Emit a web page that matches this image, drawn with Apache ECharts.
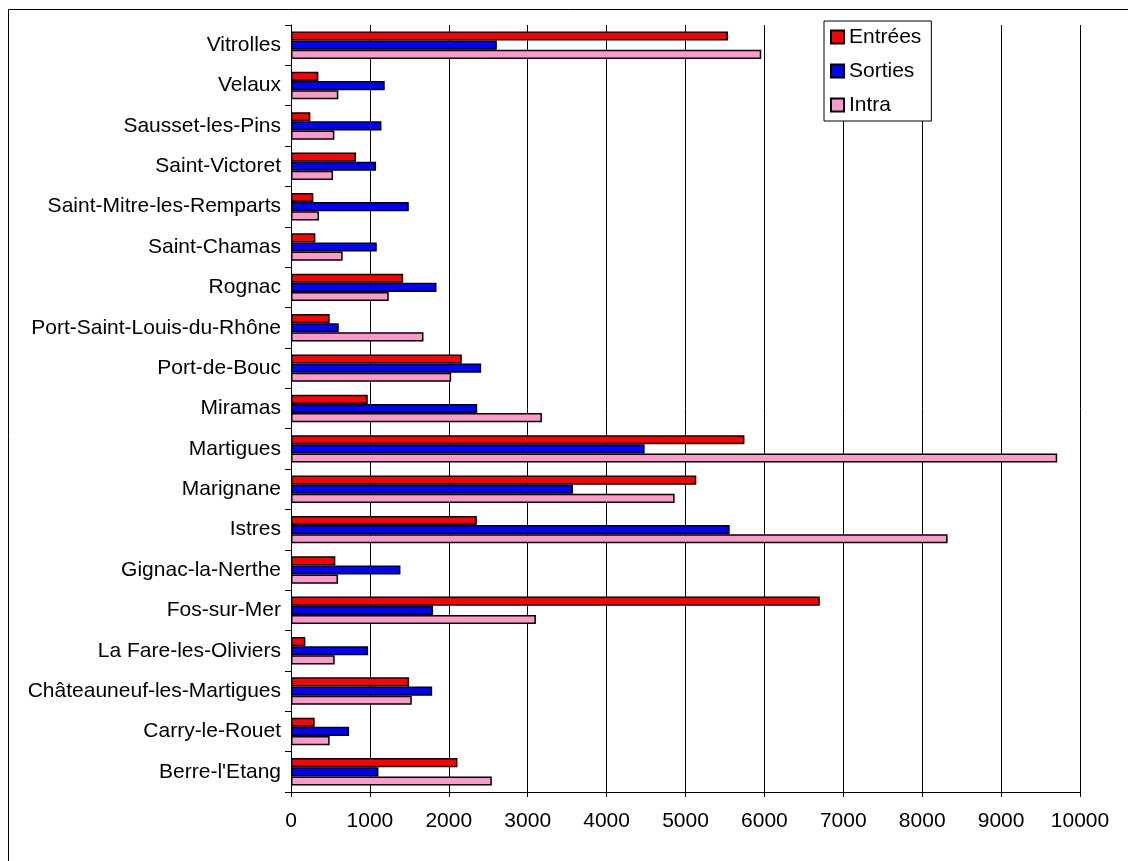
<!DOCTYPE html>
<html>
<head>
<meta charset="utf-8">
<script src="https://cdn.jsdelivr.net/npm/echarts@6/dist/echarts.min.js"></script>
<style>
html,body{margin:0;padding:0;background:#fff;}
#chart{width:1128px;height:861px;}
</style>
</head>
<body>
<div id="chart"></div>
<script>
const categories = ["Berre-l'Etang","Carry-le-Rouet","Châteauneuf-les-Martigues","La Fare-les-Oliviers","Fos-sur-Mer","Gignac-la-Nerthe","Istres","Marignane","Martigues","Miramas","Port-de-Bouc","Port-Saint-Louis-du-Rhône","Rognac","Saint-Chamas","Saint-Mitre-les-Remparts","Saint-Victoret","Sausset-les-Pins","Velaux","Vitrolles"];
const entrees = [2110,300,1497,182,6702,562,2355,5137,5747,973,2165,490,1421,309,283,824,245,347,5539];
const sorties = [1108,736,1789,977,1801,1387,5560,3574,4482,2360,2410,605,1844,1087,1493,1078,1146,1188,2609];
const intra = [2545,490,1531,554,3104,596,8322,4862,9711,3180,2030,1679,1239,655,355,533,550,600,5960];
const xTicks = {min:0, max:10000, interval:1000};

const FONT = '"Liberation Sans", Arial, sans-serif';
const chart = echarts.init(document.getElementById('chart'), null, {renderer:'canvas'});
const mk = (name, data, color) => ({
  name, type:'bar', data,
  barGap:'0%', barCategoryGap:'32%',
  itemStyle:{color, borderColor:'#000', borderWidth:1.5},
  animation:false
});
chart.setOption({
  animation:false,
  backgroundColor:'#fff',
  graphic:[{type:'rect', shape:{x:8.5,y:9.5,width:1300,height:1000}, style:{fill:'none', stroke:'#000', lineWidth:1}, silent:true, z:-10}],
  grid:{left:291, right:48, top:25, bottom:69, containLabel:false},
  legend:{
    data:['Entrées','Sorties','Intra'],
    orient:'vertical', left:824, top:21,
    backgroundColor:'#fff', borderColor:'#000', borderWidth:1,
    padding:[4,10,4,6], itemGap:10, itemWidth:13, itemHeight:13,
    icon:'rect',
    textStyle:{fontFamily:FONT, fontSize:21, color:'#000', lineHeight:24}
  },
  xAxis:{
    type:'value', min:xTicks.min, max:xTicks.max, interval:xTicks.interval,
    axisLine:{show:true, lineStyle:{color:'#000', width:1}},
    axisTick:{show:true, length:5, lineStyle:{color:'#000'}},
    axisLabel:{fontFamily:FONT, fontSize:21, color:'#000', margin:19, formatter:v => String(v)},
    splitLine:{show:true, lineStyle:{color:'#000', width:1}}
  },
  yAxis:{
    type:'category', data:categories,
    axisLine:{show:true, lineStyle:{color:'#000', width:1}},
    axisTick:{show:true, length:6, lineStyle:{color:'#000'}},
    axisLabel:{fontFamily:FONT, fontSize:21, color:'#000', margin:10},
    splitLine:{show:false}
  },
  series:[
    mk('Entrées', entrees, '#FF0000'),
    mk('Sorties', sorties, '#0000FF'),
    mk('Intra', intra, '#FF99CC')
  ]
});
</script>
</body>
</html>
